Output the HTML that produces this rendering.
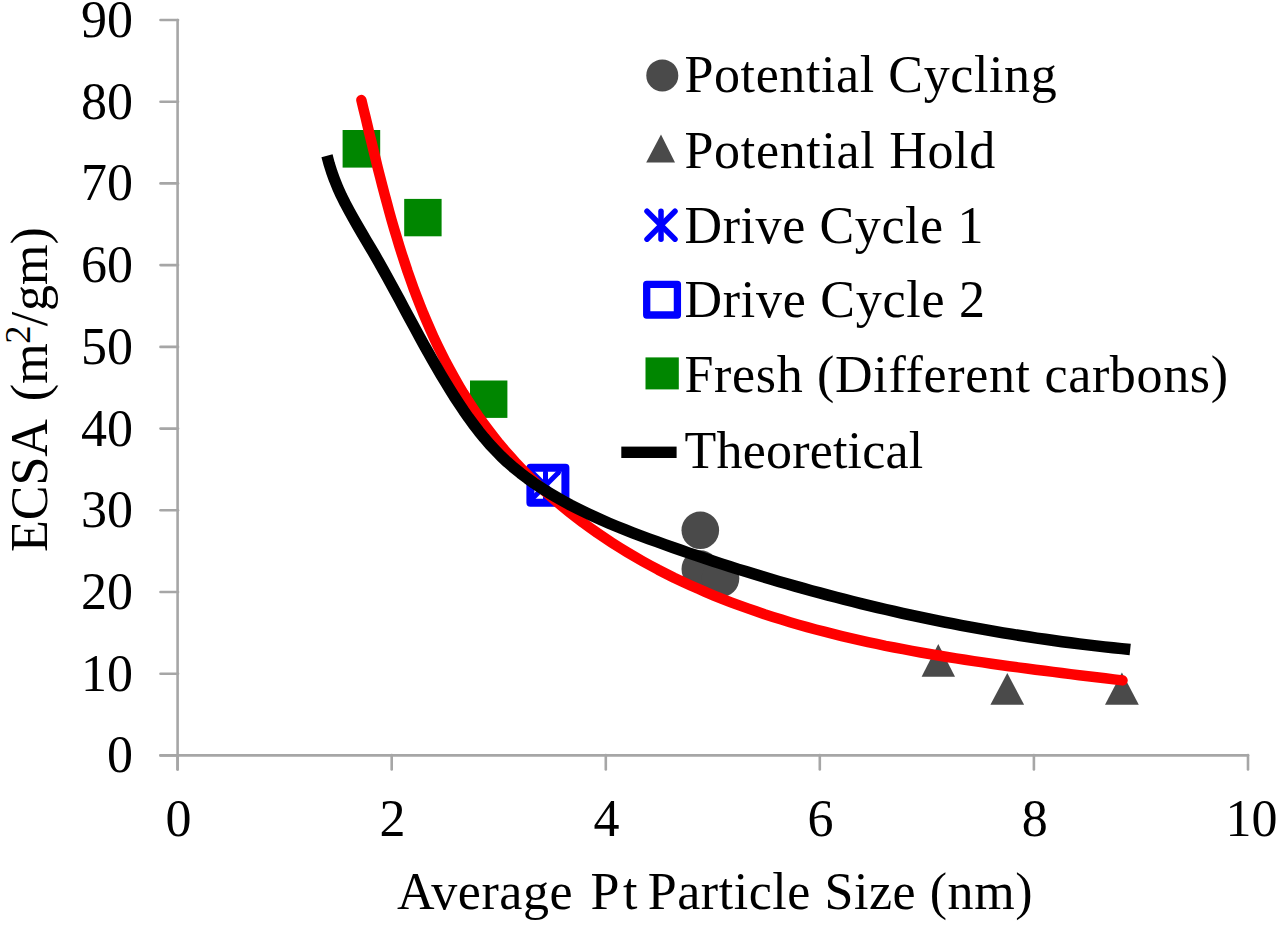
<!DOCTYPE html>
<html><head><meta charset="utf-8"><style>
html,body{margin:0;padding:0;background:#fff;width:1280px;height:925px;overflow:hidden}
svg{display:block}

text{font-family:"Liberation Serif",serif;font-size:52px;fill:#000}
</style></head><body>
<div id="w"><svg width="1280" height="925" viewBox="0 0 1280 925">
<g stroke="#a6a6a6" stroke-width="2.6" stroke-linecap="round" fill="none">
<line x1="177.6" y1="20" x2="177.6" y2="769.5"/>
<line x1="160.5" y1="755.4" x2="1248" y2="755.4"/>
<line x1="160.5" y1="755.4" x2="178" y2="755.4"/><line x1="160.5" y1="673.7" x2="178" y2="673.7"/><line x1="160.5" y1="592.0" x2="178" y2="592.0"/><line x1="160.5" y1="510.3" x2="178" y2="510.3"/><line x1="160.5" y1="428.6" x2="178" y2="428.6"/><line x1="160.5" y1="346.9" x2="178" y2="346.9"/><line x1="160.5" y1="265.1" x2="178" y2="265.1"/><line x1="160.5" y1="183.4" x2="178" y2="183.4"/><line x1="160.5" y1="101.7" x2="178" y2="101.7"/><line x1="160.5" y1="20.0" x2="178" y2="20.0"/><line x1="177.6" y1="755" x2="177.6" y2="769.5"/><line x1="391.7" y1="755" x2="391.7" y2="769.5"/><line x1="605.8" y1="755" x2="605.8" y2="769.5"/><line x1="819.8" y1="755" x2="819.8" y2="769.5"/><line x1="1033.9" y1="755" x2="1033.9" y2="769.5"/><line x1="1248.0" y1="755" x2="1248.0" y2="769.5"/>
</g>
<text x="133" y="772.4" text-anchor="end">0</text><text x="133" y="690.7" text-anchor="end">10</text><text x="133" y="609.0" text-anchor="end">20</text><text x="133" y="527.3" text-anchor="end">30</text><text x="133" y="445.6" text-anchor="end">40</text><text x="133" y="363.9" text-anchor="end">50</text><text x="133" y="282.1" text-anchor="end">60</text><text x="133" y="200.4" text-anchor="end">70</text><text x="133" y="118.7" text-anchor="end">80</text><text x="133" y="37.0" text-anchor="end">90</text><text x="178.4" y="836" text-anchor="middle">0</text><text x="392.5" y="836" text-anchor="middle">2</text><text x="606.6" y="836" text-anchor="middle">4</text><text x="820.6" y="836" text-anchor="middle">6</text><text x="1034.7" y="836" text-anchor="middle">8</text><text x="1251.5" y="836" text-anchor="middle">10</text>
<text transform="translate(47,552) rotate(-90)">ECSA <tspan dx="7.8">(m</tspan><tspan dx="-0.4" dy="-16.8" font-size="36.5">2</tspan><tspan dy="16.8" dx="-0.8">/</tspan><tspan dx="1">gm)</tspan></text>
<g style="letter-spacing:0.55px"><text x="397" y="909">Average</text><text x="590.4" y="909">P<tspan dx="3">t</tspan></text><text x="647.7" y="909">Particle Size (nm)</text></g>
<!-- markers -->
<g fill="#4a4a4a">
<circle cx="700.3" cy="530.3" r="18.8"/>
<circle cx="700.3" cy="569" r="18.8"/>
<circle cx="720.5" cy="578.5" r="18.8"/>
<polygon points="938.3,644 921.6,676.8 955,676.8"/>
<polygon points="1007.3,673 990.4,704.8 1024.1,704.8"/>
<polygon points="1121.9,672.4 1105,704.8 1138.8,704.8"/>
</g>
<g fill="#008600">
<rect x="342.6" y="130" width="37.6" height="37.6"/>
<rect x="404.2" y="198.9" width="37.4" height="37.4"/>
<rect x="470" y="380.5" width="37.4" height="37.4"/>
</g>
<g stroke="#0000ff" stroke-width="5" stroke-linecap="round"><line x1="532.5" y1="472.5" x2="558.5" y2="498.5"/><line x1="558.5" y1="472.5" x2="532.5" y2="498.5"/><line x1="545.5" y1="472.5" x2="545.5" y2="498.5"/></g>
<rect x="530.4" y="467.8" width="35" height="35" fill="none" stroke="#0000ff" stroke-width="8" stroke-linejoin="round"/>
<path d="M361.4,100.1 L363.4,108.6 L365.5,117.0 L367.5,125.5 L369.5,134.1 L371.6,142.6 L373.7,151.2 L375.8,159.8 L377.9,168.4 L380.1,177.0 L382.3,185.6 L384.6,194.3 L386.9,202.9 L389.2,211.5 L391.6,220.1 L394.1,228.7 L396.7,237.3 L399.3,245.9 L402.0,254.5 L404.8,263.0 L407.6,271.5 L410.6,279.9 L413.6,288.4 L416.7,296.7 L420.0,305.1 L423.3,313.4 L426.8,321.6 L430.4,329.8 L434.0,338.0 L437.8,346.0 L441.8,354.0 L445.8,362.0 L450.0,369.8 L454.3,377.6 L458.7,385.3 L463.2,392.9 L467.9,400.4 L472.8,407.8 L477.7,415.2 L482.8,422.4 L488.1,429.5 L493.5,436.5 L499.0,443.4 L504.7,450.2 L510.6,456.8 L516.5,463.4 L522.6,469.8 L528.9,476.1 L535.2,482.3 L541.7,488.4 L548.3,494.4 L555.0,500.3 L561.8,506.0 L568.7,511.6 L575.7,517.1 L582.8,522.5 L590.0,527.7 L597.3,532.9 L604.7,537.9 L612.1,542.8 L619.7,547.6 L627.2,552.2 L634.9,556.8 L642.6,561.2 L650.4,565.5 L658.2,569.7 L666.1,573.7 L674.0,577.7 L682.0,581.5 L690.1,585.2 L698.2,588.8 L706.3,592.4 L714.5,595.8 L722.7,599.1 L731.0,602.3 L739.3,605.4 L747.7,608.4 L756.1,611.3 L764.5,614.2 L773.0,616.9 L781.5,619.6 L790.0,622.2 L798.6,624.7 L807.2,627.1 L815.8,629.5 L824.4,631.7 L833.1,633.9 L841.8,636.1 L850.5,638.1 L859.2,640.1 L868.0,642.1 L876.8,643.9 L885.5,645.8 L894.3,647.5 L903.1,649.2 L912.0,650.9 L920.8,652.5 L929.6,654.0 L938.5,655.5 L947.3,657.0 L956.1,658.4 L965.0,659.8 L973.8,661.1 L982.7,662.4 L991.5,663.7 L1000.3,665.0 L1009.2,666.2 L1018.0,667.4 L1026.8,668.5 L1035.6,669.7 L1044.3,670.8 L1053.1,671.9 L1061.9,673.0 L1070.6,674.1 L1079.3,675.2 L1088.0,676.2 L1096.6,677.3 L1105.3,678.3 L1113.9,679.4 L1122.5,680.4" fill="none" stroke="#ff0000" stroke-width="10.5" stroke-linecap="round" stroke-linejoin="round"/>
<path d="M327.0,155.7 L329.2,164.1 L331.8,172.2 L334.7,180.2 L337.9,188.1 L341.4,195.8 L345.2,203.4 L349.2,210.9 L353.3,218.3 L357.5,225.7 L361.8,233.0 L366.1,240.3 L370.5,247.7 L374.8,255.0 L379.0,262.4 L383.2,269.9 L387.3,277.3 L391.4,284.8 L395.5,292.3 L399.6,299.8 L403.6,307.4 L407.7,314.9 L411.8,322.4 L415.8,329.9 L419.9,337.4 L424.0,344.9 L428.2,352.4 L432.4,359.8 L436.6,367.2 L440.9,374.6 L445.3,381.9 L449.8,389.2 L454.3,396.5 L459.0,403.6 L463.7,410.7 L468.6,417.7 L473.6,424.5 L478.8,431.3 L484.1,437.8 L489.6,444.2 L495.4,450.4 L501.3,456.5 L507.4,462.2 L513.8,467.8 L520.4,473.1 L527.2,478.3 L534.1,483.2 L541.2,487.9 L548.4,492.5 L555.7,496.8 L563.1,501.0 L570.6,505.1 L578.1,508.9 L585.8,512.7 L593.5,516.3 L601.2,519.8 L609.0,523.2 L616.9,526.5 L624.8,529.7 L632.8,532.8 L640.8,535.8 L648.8,538.8 L656.8,541.7 L664.9,544.6 L673.0,547.5 L681.0,550.3 L689.1,553.1 L697.2,555.8 L705.3,558.5 L713.4,561.2 L721.5,563.9 L729.7,566.5 L737.8,569.1 L746.0,571.6 L754.1,574.1 L762.3,576.6 L770.5,579.0 L778.7,581.4 L786.9,583.8 L795.1,586.1 L803.3,588.4 L811.5,590.7 L819.8,592.9 L828.0,595.1 L836.3,597.3 L844.5,599.4 L852.8,601.5 L861.1,603.6 L869.4,605.6 L877.7,607.6 L886.0,609.5 L894.3,611.4 L902.6,613.3 L911.0,615.1 L919.3,616.9 L927.6,618.7 L936.0,620.4 L944.4,622.1 L952.7,623.7 L961.1,625.3 L969.5,626.9 L977.9,628.4 L986.3,629.9 L994.7,631.4 L1003.1,632.8 L1011.5,634.2 L1020.0,635.5 L1028.4,636.8 L1036.8,638.1 L1045.3,639.3 L1053.8,640.5 L1062.2,641.7 L1070.7,642.8 L1079.2,643.9 L1087.6,644.9 L1096.1,645.9 L1104.6,646.9 L1113.1,647.8 L1121.6,648.6 L1130.2,649.5" fill="none" stroke="#000" stroke-width="11.5" stroke-linecap="butt" stroke-linejoin="round"/>
<!-- legend -->
<circle cx="662.3" cy="75.4" r="16" fill="#4a4a4a"/>
<polygon points="661,134.4 646.2,162.5 675,162.5" fill="#4a4a4a"/>
<g stroke="#0000ff" stroke-width="5.5" stroke-linecap="round"><line x1="647.0" y1="211.2" x2="675.0" y2="239.2"/><line x1="675.0" y1="211.2" x2="647.0" y2="239.2"/><line x1="661" y1="211.2" x2="661" y2="239.2"/></g>
<rect x="646.7" y="284.3" width="30.7" height="30.7" fill="none" stroke="#0000ff" stroke-width="7.3" stroke-linejoin="round"/>
<rect x="645.5" y="357.4" width="33.3" height="32" fill="#008600"/>
<rect x="621.3" y="446.6" width="55.3" height="11.4" fill="#000"/>
<text x="684.5" y="91.6" style="letter-spacing:0.6px">Potential Cycling</text><text x="684.5" y="167.5" style="letter-spacing:0.68px">Potential Hold</text><text x="684.5" y="242.5" style="letter-spacing:0.6px">Drive Cycle 1</text><text x="684.5" y="316.5" style="letter-spacing:0.73px">Drive Cycle 2</text><text x="684.5" y="392.2" style="letter-spacing:0.67px">Fresh (Different carbons)</text><text x="684.5" y="467.8" style="letter-spacing:0.2px">Theoretical</text>
</svg></div>
</body></html>
